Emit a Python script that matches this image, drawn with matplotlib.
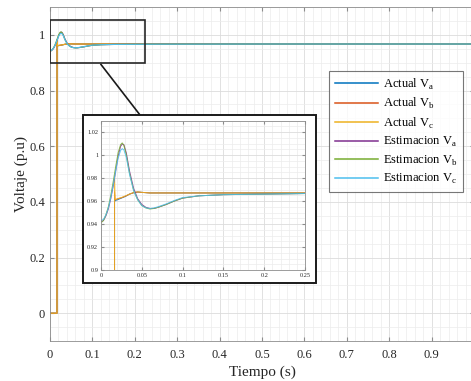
import matplotlib
matplotlib.use("Agg")
import matplotlib.pyplot as plt
from matplotlib.patches import Rectangle
from matplotlib.lines import Line2D
from matplotlib.ticker import MultipleLocator

plt.rcParams['font.family'] = ['Liberation Serif', 'DejaVu Serif']
plt.rcParams['mathtext.fontset'] = 'custom'
plt.rcParams['mathtext.rm'] = 'Liberation Serif'

# Estimated voltages (p.u)
t_est = [0, 0.003, 0.006, 0.009, 0.012, 0.015, 0.018, 0.021, 0.024, 0.026, 0.028,
         0.031, 0.035, 0.04, 0.045, 0.05, 0.055, 0.06, 0.065, 0.07, 0.08, 0.09,
         0.1, 0.12, 0.15, 0.2, 0.25, 0.5, 1.0]
est_va = [0.942, 0.943, 0.947, 0.953, 0.962, 0.973, 0.986, 0.999, 1.0075, 1.0095, 1.009,
          1.002, 0.986, 0.971, 0.962, 0.957, 0.9545, 0.9535, 0.9535, 0.9545, 0.957, 0.960,
          0.9625, 0.9645, 0.9655, 0.966, 0.9665, 0.967, 0.967]
est_vb = [0.941, 0.943, 0.948, 0.955, 0.965, 0.977, 0.990, 1.002, 1.009, 1.0105, 1.0085,
          1.000, 0.984, 0.969, 0.961, 0.956, 0.954, 0.953, 0.9535, 0.9545, 0.957, 0.960,
          0.9625, 0.9645, 0.9655, 0.966, 0.9665, 0.967, 0.967]
est_vc = [0.943, 0.944, 0.948, 0.954, 0.963, 0.974, 0.986, 0.997, 1.004, 1.0055, 1.0045,
          0.998, 0.983, 0.969, 0.961, 0.956, 0.954, 0.9535, 0.954, 0.955, 0.9575, 0.9605,
          0.963, 0.9645, 0.9655, 0.966, 0.9665, 0.967, 0.967]

# Actual voltages (zero until the measurement kicks in)
t_act = [0, 0.0165, 0.0166, 0.0172, 0.018, 0.02, 0.025, 0.03, 0.035, 0.04, 0.045, 0.05, 0.06, 0.1, 0.25, 1.0]
act_va = [0, 0, 0.962, 0.960, 0.9605, 0.961, 0.9625, 0.964, 0.966, 0.9672, 0.9678, 0.9675, 0.967, 0.967, 0.967, 0.967]
act_vb = [0, 0, 0.968, 0.961, 0.9612, 0.9618, 0.9628, 0.9642, 0.966, 0.9672, 0.9678, 0.9675, 0.967, 0.967, 0.967, 0.967]
act_vc = [0, 0, 0.982, 0.962, 0.961, 0.962, 0.963, 0.9645, 0.966, 0.9675, 0.968, 0.9675, 0.967, 0.967, 0.967, 0.967]

labels = [r'Actual V$_\mathregular{a}$', r'Actual V$_\mathregular{b}$', r'Actual V$_\mathregular{c}$',
          r'Estimacion V$_\mathregular{a}$', r'Estimacion V$_\mathregular{b}$', r'Estimacion V$_\mathregular{c}$']
colors = ['#0072BD', '#D95319', '#EDB120', '#7E2F8E', '#77AC30', '#4DBEEE']

series = [(t_act, act_va), (t_act, act_vb), (t_act, act_vc),
          (t_est, est_va), (t_est, est_vb), (t_est, est_vc)]

W, H = 471, 381
fig = plt.figure(figsize=(W / 100, H / 100), dpi=100)


def px(x, y):
    # pixel position -> figure fraction
    return x / W, 1 - y / H


def style_axes(ax, fs):
    for s in ax.spines.values():
        s.set_color('#8c8c8c')
        s.set_linewidth(0.6)
    ax.tick_params(which='both', direction='in', top=True, right=True,
                   colors='#8c8c8c', labelcolor='#262626', labelsize=fs)
    ax.tick_params(which='major', length=3)
    ax.tick_params(which='minor', length=0)
    ax.grid(which='major', color='#dcdcdc', linewidth=0.6)
    ax.grid(which='minor', color='#ececec', linewidth=0.5)
    ax.set_axisbelow(True)


# main axes (right edge runs a little past the figure)
ax = fig.add_axes([50 / W, 1 - 341 / H, 424 / W, 334 / H])
for (t, v), c, lab in zip(series, colors, labels):
    ax.plot(t, v, color=c, linewidth=0.8, label=lab)
ax.set_xlim(0, 1)
ax.set_ylim(-0.1, 1.1)
ax.xaxis.set_minor_locator(MultipleLocator(0.02))
ax.yaxis.set_minor_locator(MultipleLocator(0.05))
ax.set_xticks([0, 0.1, 0.2, 0.3, 0.4, 0.5, 0.6, 0.7, 0.8, 0.9, 1.0])
# the "1" label falls outside the cropped picture
ax.set_xticklabels(['0', '0.1', '0.2', '0.3', '0.4', '0.5', '0.6', '0.7', '0.8', '0.9', ''])
ax.set_yticks([0, 0.2, 0.4, 0.6, 0.8, 1.0])
ax.set_yticklabels(['0', '0.2', '0.4', '0.6', '0.8', '1'])
style_axes(ax, 9)
ax.tick_params(axis='x', pad=6)
ax.set_xlabel('Tiempo (s)', fontsize=11, color='#262626', labelpad=3)
ax.set_ylabel('Voltaje (p.u)', fontsize=11, color='#262626', labelpad=1)

# zoom box on the main plot
ax.add_patch(Rectangle((0, 0.9), 0.224, 0.152, fill=False, edgecolor='#262626', linewidth=1.2, zorder=5))

# legend
leg = ax.legend(loc='upper left', bbox_to_anchor=px(329, 71), bbox_transform=fig.transFigure,
                borderaxespad=0, fontsize=9, frameon=True, fancybox=False,
                handlelength=3.5, handletextpad=0.35, labelspacing=0.35, borderpad=0.45)
leg.get_frame().set_edgecolor('#555555')
leg.get_frame().set_linewidth(0.8)
for h in leg.get_lines():
    h.set_linewidth(1.1)

# frame behind the inset + connector line
x0, y0 = px(83, 283)
fig.patches.append(Rectangle((x0, y0), 233 / W, 168 / H, transform=fig.transFigure,
                             facecolor='white', edgecolor='#1a1a1a', linewidth=1.4, zorder=3))
x1, y1 = px(101, 64.5)
x2, y2 = px(140, 115)
fig.lines.append(Line2D([x1, x2], [y1, y2], transform=fig.transFigure, color='#1a1a1a', linewidth=1.2))

# inset axes
axi = fig.add_axes([101 / W, 1 - 270 / H, 204 / W, 149.5 / H])
axi.set_zorder(4)
for (t, v), c in zip(series, colors):
    axi.plot(t, v, color=c, linewidth=0.7, alpha=0.85)
axi.set_xlim(0, 0.25)
axi.set_ylim(0.9, 1.03)
axi.set_xticks([0, 0.05, 0.1, 0.15, 0.2, 0.25])
axi.set_xticklabels(['0', '0.05', '0.1', '0.15', '0.2', '0.25'])
axi.set_yticks([0.9, 0.92, 0.94, 0.96, 0.98, 1.0, 1.02])
axi.set_yticklabels(['0.9', '0.92', '0.94', '0.96', '0.98', '1', '1.02'])
axi.xaxis.set_minor_locator(MultipleLocator(0.01))
axi.yaxis.set_minor_locator(MultipleLocator(0.005))
style_axes(axi, 4.5)
axi.tick_params(which='major', length=2, pad=2)

fig.savefig('out.png', dpi=100)
